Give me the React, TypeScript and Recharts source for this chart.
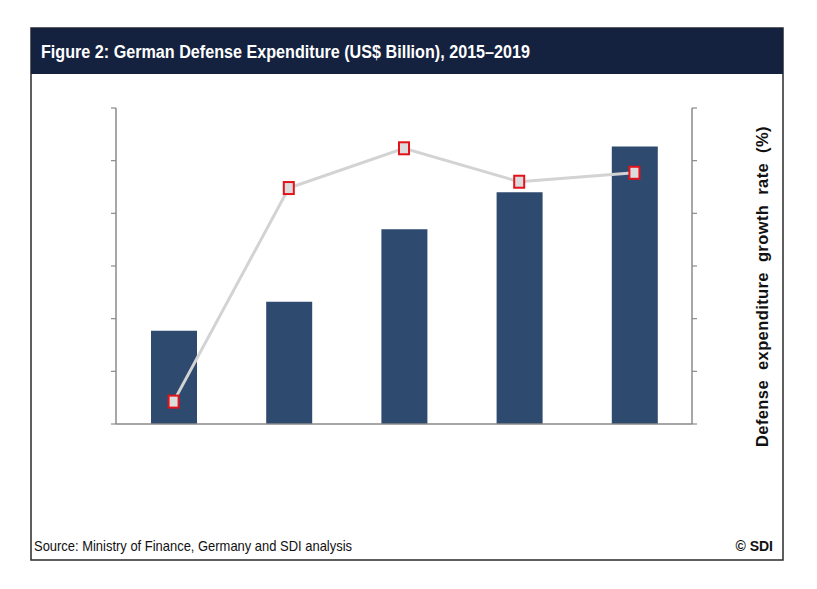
import React from "react";
import { ComposedChart, Bar, Line, XAxis, YAxis } from "recharts";

const years = ["2015", "2016", "2017", "2018", "2019"];
const expenditure = [17.7, 23.2, 37.0, 44.0, 52.7];
const growthRate = [0.85, 8.96, 10.47, 9.2, 9.54];
const leftTicks = [0, 10, 20, 30, 40, 50, 60];
const rightTicks = [0, 2, 4, 6, 8, 10, 12];

const data = years.map((year, i) => ({
  year,
  expenditure: expenditure[i],
  growth: growthRate[i],
}));

const W = 817;
const H = 589;
const NAVY = "#14223f";
const BAR = "#2e4a6f";

const NoTick = () => <g />;

const SquareDot = (props: any) => {
  const { cx, cy } = props;
  if (cx == null || cy == null) return <g />;
  return (
    <rect
      x={cx - 5}
      y={cy - 6}
      width={10}
      height={12}
      fill="#dcdcdc"
      stroke="#e3131b"
      strokeWidth={2}
    />
  );
};

export default function App() {
  return (
    <div
      style={{
        position: "absolute",
        left: 0,
        top: 0,
        width: W,
        height: H,
        background: "#fff",
      }}
    >
      <div style={{ position: "absolute", left: 0, top: 0 }}>
        <ComposedChart
          width={W}
          height={H}
          data={data}
          margin={{ top: 108, right: 115, bottom: 164, left: 106 }}
        >
          <XAxis
            dataKey="year"
            height={1}
            tick={NoTick}
            tickLine={false}
            axisLine={{ stroke: "#8a8a8a", strokeWidth: 1.5 }}
          />
          <YAxis
            yAxisId="left"
            width={10}
            domain={[0, 60]}
            ticks={leftTicks}
            tick={NoTick}
            tickSize={5}
            tickLine={{ stroke: "#8a8a8a", strokeWidth: 1.2 }}
            axisLine={{ stroke: "#8a8a8a", strokeWidth: 1.5 }}
          />
          <YAxis
            yAxisId="right"
            orientation="right"
            width={10}
            domain={[0, 12]}
            ticks={rightTicks}
            tick={NoTick}
            tickSize={5}
            tickLine={{ stroke: "#8a8a8a", strokeWidth: 1.2 }}
            axisLine={{ stroke: "#8a8a8a", strokeWidth: 1.5 }}
          />
          <Bar
            yAxisId="left"
            dataKey="expenditure"
            fill={BAR}
            barSize={46}
            isAnimationActive={false}
          />
          <Line
            yAxisId="right"
            dataKey="growth"
            type="linear"
            stroke="#d3d3d3"
            strokeWidth={3}
            dot={<SquareDot />}
            activeDot={false}
            isAnimationActive={false}
          />
        </ComposedChart>
      </div>
      <svg
        width={W}
        height={H}
        style={{ position: "absolute", left: 0, top: 0, pointerEvents: "none" }}
      >
        <rect
          x={31}
          y={28}
          width={752}
          height={532}
          fill="none"
          stroke="#2a2a2a"
          strokeWidth={1.5}
        />
        <rect x={31} y={28} width={752} height={46} fill={NAVY} />
        <text
          x={41}
          y={58}
          fill="#ffffff"
          fontFamily="'Liberation Sans Narrow', 'Liberation Sans', Arial, sans-serif"
          fontWeight="bold"
          fontSize={19}
          textLength={489}
          lengthAdjust="spacingAndGlyphs"
        >
          Figure 2: German Defense Expenditure (US$ Billion), 2015–2019
        </text>
        <text
          x={0}
          y={0}
          transform="translate(768,447) rotate(-90)"
          fill="#111"
          fontFamily="'Liberation Sans', Arial, sans-serif"
          fontWeight="bold"
          fontSize={16.5}
          wordSpacing={5}
          letterSpacing={0.4}
        >
          Defense expenditure growth rate (%)
        </text>
        <text
          x={34}
          y={551}
          fill="#111"
          fontFamily="'Liberation Sans Narrow', 'Liberation Sans', Arial, sans-serif"
          fontSize={14.5}
          textLength={318}
          lengthAdjust="spacingAndGlyphs"
        >
          Source: Ministry of Finance, Germany and SDI analysis
        </text>
        <text
          x={773}
          y={551}
          textAnchor="end"
          fill="#111"
          fontFamily="'Liberation Sans Narrow', 'Liberation Sans', Arial, sans-serif"
          fontWeight="bold"
          fontSize={14}
        >
          © SDI
        </text>
      </svg>
    </div>
  );
}
